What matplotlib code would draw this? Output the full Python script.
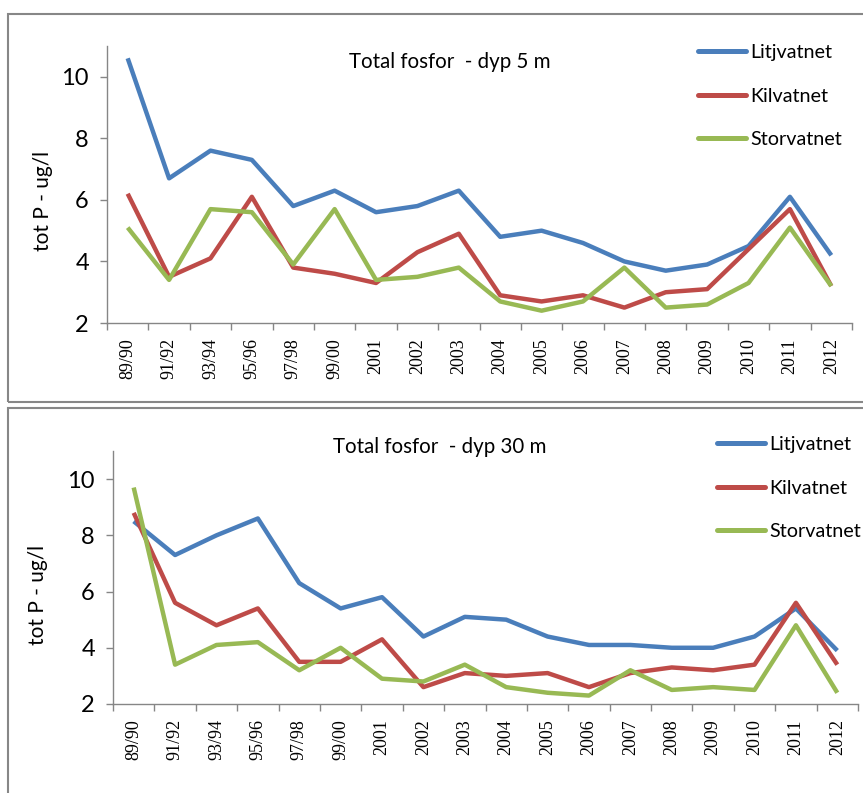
import matplotlib
matplotlib.use("Agg")
import matplotlib.pyplot as plt
from matplotlib.patches import Rectangle

# ------------------------------------------------------------------
# Data
# ------------------------------------------------------------------
kategorier = ["89/90", "91/92", "93/94", "95/96", "97/98", "99/00",
              "2001", "2002", "2003", "2004", "2005", "2006",
              "2007", "2008", "2009", "2010", "2011", "2012"]

# dyp 5 m
litj_5 = [10.6, 6.7, 7.6, 7.3, 5.8, 6.3, 5.6, 5.8, 6.3, 4.8, 5.0, 4.6,
          4.0, 3.7, 3.9, 4.5, 6.1, 4.2]
kil_5 = [6.2, 3.5, 4.1, 6.1, 3.8, 3.6, 3.3, 4.3, 4.9, 2.9, 2.7, 2.9,
         2.5, 3.0, 3.1, 4.4, 5.7, 3.2]
stor_5 = [5.1, 3.4, 5.7, 5.6, 3.9, 5.7, 3.4, 3.5, 3.8, 2.7, 2.4, 2.7,
          3.8, 2.5, 2.6, 3.3, 5.1, 3.2]

# dyp 30 m
litj_30 = [8.5, 7.3, 8.0, 8.6, 6.3, 5.4, 5.8, 4.4, 5.1, 5.0, 4.4, 4.1,
           4.1, 4.0, 4.0, 4.4, 5.4, 3.9]
kil_30 = [8.8, 5.6, 4.8, 5.4, 3.5, 3.5, 4.3, 2.6, 3.1, 3.0, 3.1, 2.6,
          3.1, 3.3, 3.2, 3.4, 5.6, 3.4]
stor_30 = [9.7, 3.4, 4.1, 4.2, 3.2, 4.0, 2.9, 2.8, 3.4, 2.6, 2.4, 2.3,
           3.2, 2.5, 2.6, 2.5, 4.8, 2.4]

serienavn = ["Litjvatnet", "Kilvatnet", "Storvatnet"]
farger = ["#4A7EBB", "#BE4B48", "#98B954"]
yticks = [2, 4, 6, 8, 10]

SANS = "Lato"
SERIF = "Liberation Serif"
W, H = 863, 793


def px_axes(fig, left, right, top, bottom):
    """Akser plassert i pikselkoordinater (origo oppe til venstre)."""
    return fig.add_axes([left / W, (H - bottom) / H, (right - left) / W, (bottom - top) / H])


def tegn_panel(ax, serier, tittel, tittel_xy, ylab_xy, leg_xy):
    x = range(len(kategorier))
    for verdier, navn, farge in zip(serier, serienavn, farger):
        ax.plot(x, verdier, color=farge, lw=3.2, label=navn,
                solid_joinstyle="round", solid_capstyle="butt")

    ax.set_xlim(-0.5, len(kategorier) - 0.5)
    ax.set_ylim(2, 11)
    ax.set_yticks(yticks)
    ax.set_yticklabels([str(v) for v in yticks], fontsize=17, family=SANS)

    ax.set_xticks(list(x))
    ax.set_xticklabels(kategorier, rotation=90, fontsize=13, family=SERIF, va="top")
    ax.set_xticks([i - 0.5 for i in range(len(kategorier) + 1)], minor=True)
    ax.tick_params(axis="x", which="major", length=0, pad=11)
    ax.tick_params(axis="x", which="minor", length=5, width=1, color="#868686", direction="out")
    ax.tick_params(axis="y", length=5, width=1, color="#868686", direction="out", pad=8)

    for side in ["top", "right"]:
        ax.spines[side].set_visible(False)
    for side in ["left", "bottom"]:
        ax.spines[side].set_color("#868686")
        ax.spines[side].set_linewidth(1)

    ax.set_ylabel("tot P - ug/l", fontsize=15, family=SANS)
    ax.yaxis.set_label_coords(*ylab_xy)
    ax.text(tittel_xy[0], tittel_xy[1], tittel, transform=ax.transAxes,
            ha="center", va="center", fontsize=14.8, family=SANS)

    leg = ax.legend(loc="upper left", bbox_to_anchor=leg_xy, frameon=False,
                    prop={"family": SANS, "size": 14.2}, handlelength=2.45,
                    handletextpad=0.22, labelspacing=1.35, borderpad=0, borderaxespad=0)
    for linje in leg.get_lines():
        linje.set_linewidth(3.6)
        linje.set_solid_capstyle("round")


fig = plt.figure(figsize=(W / 100, H / 100), dpi=100)

# rammer rundt de to diagrammene
kant = "#878787"
fig.add_artist(Rectangle((7.5 / W, (H - 402) / H), 1.0, (402 - 14) / H,
                         transform=fig.transFigure, fill=False, ec=kant, lw=1.5, clip_on=False))
fig.add_artist(Rectangle((7.5 / W, -0.05), 1.0, (H - 408.5) / H + 0.05,
                         transform=fig.transFigure, fill=False, ec=kant, lw=1.5, clip_on=False))

ax1 = px_axes(fig, 107, 852, 46, 323)
tegn_panel(ax1, [litj_5, kil_5, stor_5], "Total fosfor  - dyp 5 m",
           ((450 - 107) / 745, (323 - 62) / 277), (-0.072, 0.44),
           ((698 - 107) / 745, (323 - 44) / 277))

ax2 = px_axes(fig, 113, 858, 451, 704)
tegn_panel(ax2, [litj_30, kil_30, stor_30], "Total fosfor  - dyp 30 m",
           ((440 - 113) / 745, (704 - 447) / 253), (-0.087, 0.43),
           ((717 - 113) / 745, (704 - 436) / 253))

fig.savefig("out.png", dpi=100)
